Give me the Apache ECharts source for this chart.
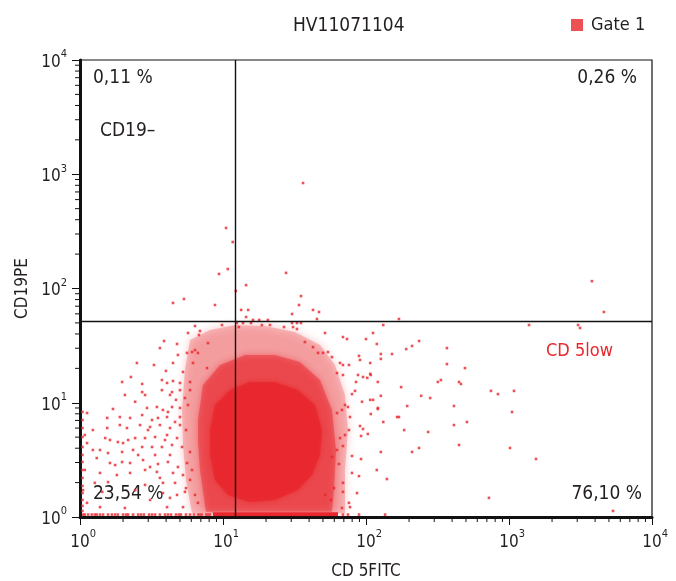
<!DOCTYPE html>
<html>
<head>
<meta charset="utf-8">
<title>HV11071104</title>
<script src="https://cdn.jsdelivr.net/npm/echarts@6/dist/echarts.min.js"></script>
<style>
html, body { margin: 0; padding: 0; background: #fff; }
#chart { width: 676px; height: 581px; }
</style>
</head>
<body>
<div id="chart"></div>
<script>
const FONT = "'Liberation Sans Narrow', 'DejaVu Sans Condensed', 'Noto Sans', sans-serif"
const INK = '#231f20'
const RED = '#e8262c'

// both axes are 4-decade log scales
const majorTicks = [1, 10, 100, 1000, 10000]
const minorTicks = [2, 3, 4, 5, 6, 7, 8, 9, 20, 30, 40, 50, 60, 70, 80, 90,
  200, 300, 400, 500, 600, 700, 800, 900, 2000, 3000, 4000, 5000, 6000, 7000, 8000, 9000]

// quadrant cursor (CD 5FITC, CD19PE)
const quadrantX = 12.1
const quadrantY = 52

const quadrantLabels = ['0,11 %', '0,26 %', '23,54 %', '76,10 %']
const populationLabels = ['CD19–', 'CD 5low']

// events [CD 5FITC, CD19PE]
const leftEvents = [
  [6.37, 47.0], [5.69, 40.8], [6.90, 42.5], [6.79, 39.2], [3.87, 34.7], [4.77, 32.7], [7.85, 33.3],
  [6.07, 27.8], [6.37, 28.9], [6.68, 27.3], [5.60, 27.3], [2.50, 22.3], [3.29, 21.4], [4.47, 22.3],
  [6.17, 22.3], [3.99, 19.0], [5.25, 18.6], [7.73, 20.1], [1.97, 15.2], [2.27, 16.8], [2.72, 14.6],
  [3.74, 15.8], [4.06, 14.9], [4.47, 15.5], [5.00, 14.9], [5.88, 15.2], [2.72, 12.4], [3.74, 12.9],
  [4.40, 12.4], [5.00, 12.9], [5.88, 12.9], [2.43, 10.2], [1.70, 8.82], [2.94, 9.00], [3.45, 9.18],
  [3.80, 8.65], [4.40, 9.18], [5.00, 9.00], [1.12, 8.13], [1.55, 7.36], [1.90, 7.50], [2.24, 7.36],
  [2.72, 7.81], [3.19, 7.06], [3.51, 7.36], [4.06, 7.50], [5.00, 7.50], [1.90, 6.38], [2.13, 6.01],
  [2.63, 6.38], [3.09, 6.14], [3.62, 6.38], [4.26, 6.01], [5.00, 6.38], [1.23, 5.77], [1.55, 6.01],
  [1.08, 5.22], [1.50, 4.91], [1.84, 4.53], [2.00, 4.44], [2.43, 4.91], [2.85, 4.91], [3.35, 5.01],
  [4.06, 5.22], [4.77, 4.91], [1.12, 4.44], [1.23, 3.86], [1.57, 3.63], [1.97, 3.71], [2.35, 3.86],
  [2.72, 4.10], [3.19, 4.10], [3.74, 4.10], [4.40, 4.27], [5.17, 4.10], [1.31, 3.28], [1.62, 2.97],
  [1.97, 3.03], [2.24, 2.97], [2.76, 3.15], [3.09, 2.74], [3.51, 2.91], [4.12, 3.03], [4.84, 2.74],
  [5.60, 2.97], [1.08, 2.58], [1.38, 2.43], [1.81, 2.33], [2.24, 2.43], [2.85, 2.58], [3.45, 2.48],
  [4.47, 2.43], [5.25, 2.33], [1.27, 1.99], [1.57, 2.02], [2.85, 1.91], [3.80, 1.99], [4.62, 1.99],
  [5.88, 2.11], [1.05, 1.72], [1.43, 1.66], [3.80, 1.62], [4.77, 1.56], [5.42, 1.66], [6.68, 1.33],
  [4.06, 1.22], [5.25, 1.22], [1.38, 1.22], [1.12, 1.33], [4.26, 11.7], [4.69, 10.6], [5.42, 11.0],
  [4.12, 8.30], [5.69, 9.56], [4.62, 6.79], [5.51, 5.77], [3.93, 4.72], [5.88, 3.71], [4.26, 3.49],
  [3.62, 2.20], [6.07, 2.58], [5.51, 1.79], [4.26, 1.47], [6.37, 1.56], [3.35, 3.49], [2.99, 5.77],
  [2.55, 3.49], [2.17, 4.72], [1.76, 2.85], [3.09, 1.41], [2.43, 1.72], [2.06, 1.20], [4.84, 26.2],
  [3.62, 30.1], [2.85, 11.7], [2.06, 11.7], [1.62, 4.72], [1.38, 3.86]
]

const upperEvents = [
  [36.3, 838], [10.5, 339], [11.7, 255], [10.8, 148], [9.38, 134], [27.6, 137], [14.5, 107],
  [12.3, 95.1], [4.47, 74.7], [5.33, 80.9], [8.79, 71.7], [35.1, 85.9], [34.0, 71.7], [42.6, 64.9],
  [46.9, 62.3], [30.4, 59.8], [13.4, 64.9], [15.0, 64.9], [14.5, 56.3], [16.2, 53.0], [17.9, 53.0],
  [20.6, 53.0], [45.4, 54.1], [12.5, 49.9], [13.8, 49.9], [15.7, 49.9], [30.4, 49.9], [35.1, 49.9],
  [9.84, 47.9], [12.9, 46.0], [18.7, 47.9], [21.3, 47.9], [26.7, 46.0], [30.9, 46.0], [32.9, 44.2],
  [3800, 116], [4610, 62.3], [170, 54.1]
]

const rightEvents = [
  [51.7, 40.8], [69.0, 37.6], [73.6, 36.1], [100, 36.1], [112, 40.8], [132, 47.9], [119, 32.7],
  [37.4, 34.0], [42.6, 30.7], [46.2, 27.3], [50.0, 27.3], [54.2, 27.8], [57.8, 25.1], [65.8, 22.3],
  [69.0, 21.4], [76.0, 21.4], [89.3, 25.7], [90.8, 23.7], [107, 22.3], [127, 24.2], [127, 26.7],
  [152, 26.7], [62.7, 18.2], [69.0, 17.5], [87.9, 17.5], [95.3, 16.8], [107, 17.9], [121, 15.2],
  [85.1, 15.2], [102, 16.5], [83.8, 12.7], [79.8, 11.9], [74.8, 9.18], [71.3, 9.56], [67.9, 8.65],
  [62.7, 8.13], [77.3, 7.50], [93.8, 10.2], [107, 10.6], [127, 11.5], [121, 9.00], [132, 6.79],
  [90.8, 6.26], [95.3, 5.89], [103, 5.33], [92.3, 5.12], [76.0, 5.77], [71.3, 5.22], [65.8, 4.91],
  [69.0, 4.18], [79.8, 3.42], [92.3, 3.22], [127, 3.71], [62.7, 3.86], [57.8, 3.35], [64.7, 2.91],
  [79.8, 2.43], [89.3, 2.28], [140, 2.15], [119, 2.58], [69.0, 1.99], [59.7, 1.79], [69.0, 1.66],
  [86.5, 1.62], [51.7, 1.56], [56.9, 1.41], [76.0, 1.33], [67.9, 1.20], [77.3, 1.22], [165, 7.50],
  [32.9, 49.9], [1380, 47.9], [3040, 47.9], [3140, 45.1], [235, 34.7], [210, 31.4], [191, 29.5],
  [368, 30.1], [368, 21.8], [492, 20.1], [108, 17.5], [318, 15.2], [334, 15.8], [447, 15.2],
  [461, 14.6], [176, 13.7], [748, 12.7], [837, 11.9], [1084, 12.7], [243, 11.5], [281, 11.0],
  [112, 10.6], [194, 9.37], [412, 9.37], [121, 8.82], [108, 7.97], [170, 7.50], [1050, 8.30],
  [508, 6.79], [412, 6.38], [185, 5.77], [272, 5.55], [447, 4.27], [235, 4.02], [1016, 4.02],
  [210, 3.71], [1545, 3.22], [724, 1.47], [5340, 1.13]
]

// events piled on the low edges of the scale
const leftEdgeEvents = [
  [1.04, 8.30], [1.04, 7.06], [1.04, 6.01], [1.04, 5.01], [1.04, 4.10], [1.04, 3.49], [1.04, 3.03],
  [1.04, 2.58], [1.04, 2.20], [1.04, 1.87], [1.04, 1.62], [1.04, 1.41], [1.04, 1.25], [1.04, 1.13]
]
const bottomEdgeEvents = [
  [1.05, 1.05], [1.08, 1.05], [1.14, 1.05], [1.21, 1.05], [1.27, 1.05], [1.31, 1.05], [1.38, 1.05],
  [1.45, 1.05], [1.57, 1.05], [1.67, 1.05], [1.76, 1.05], [1.84, 1.05], [2.00, 1.05], [2.10, 1.05],
  [2.17, 1.05], [2.35, 1.05], [2.55, 1.05], [2.67, 1.05], [2.80, 1.05], [3.04, 1.05], [3.19, 1.05],
  [3.35, 1.05], [3.62, 1.05], [3.93, 1.05], [4.12, 1.05], [4.33, 1.05], [4.69, 1.05], [4.92, 1.05],
  [5.08, 1.05], [5.51, 1.05], [5.88, 1.05], [6.27, 1.05], [6.68, 1.05], [6.90, 1.05], [7.13, 1.05],
  [7.60, 1.05], [7.85, 1.05], [8.11, 1.05], [69.0, 1.05], [74.8, 1.05], [89.3, 1.05], [136, 1.05]
]

// outlines of the dense part of the cloud, from sparse to solid
const outerDensity = [
  [5.88, 35.4], [8.11, 43.3], [12.1, 47.9], [19.7, 47.0], [31.9, 41.6], [47.7, 32.0], [60.7, 21.4],
  [71.3, 11.7], [74.8, 5.77], [71.3, 2.58], [71.3, 1.08], [6.07, 1.08], [5.51, 2.11], [5.25, 4.27],
  [5.17, 8.65], [5.42, 19.4]
]
const midDensity = [
  [6.68, 7.06], [7.24, 14.3], [9.53, 21.4], [14.3, 26.2], [23.1, 26.2], [34.5, 22.7], [47.7, 15.8],
  [57.8, 8.65], [61.7, 3.86], [59.7, 1.72], [57.8, 1.11], [7.60, 1.11], [6.90, 2.58], [6.68, 4.72]
]
const coreDensity = [
  [8.11, 5.77], [8.79, 9.56], [11.2, 12.9], [15.4, 15.2], [23.1, 15.2], [33.4, 12.9], [44.0, 9.56],
  [49.2, 5.77], [47.7, 3.49], [41.9, 2.33], [33.4, 1.72], [23.1, 1.41], [15.4, 1.35], [10.8, 1.56],
  [8.79, 2.11], [8.11, 3.49]
]
const bottomBand = [[8.51, 1.02], [63.7, 1.02], [63.7, 1.10], [8.51, 1.10]]

const densityLayers = [
  { outline: outerDensity, opacity: 0.26, blur: 8 },
  { outline: midDensity, opacity: 0.46, blur: 6 },
  { outline: coreDensity, opacity: 0.74, blur: 5 },
  { outline: bottomBand, opacity: 1, blur: 0 }
]

const chart = echarts.init(document.getElementById('chart'))

const textBase = { fontFamily: FONT, color: INK }
const powerRich = {
  pad: { fontSize: 11, lineHeight: 22, color: 'rgba(0,0,0,0)', fontFamily: FONT },
  base: { fontSize: 17, lineHeight: 18, verticalAlign: 'bottom', color: INK, fontFamily: FONT },
  sup: { fontSize: 11, lineHeight: 11, verticalAlign: 'top', color: INK, fontFamily: FONT }
}
const exponentOf = v => String(Math.round(Math.log10(v)))

const option = {
  animation: false,
  backgroundColor: '#fff',
  title: {
    text: 'HV11071104',
    left: 288,
    top: 12,
    textStyle: { ...textBase, fontSize: 19, fontWeight: 'normal' }
  },
  legend: {
    data: ['Gate 1'],
    left: 571,
    top: 16,
    icon: 'rect',
    itemWidth: 12,
    itemHeight: 12,
    itemGap: 6,
    padding: 0,
    textStyle: { ...textBase, fontSize: 18, padding: [0, 0, 0, 3] }
  },
  grid: {
    left: 80,
    right: 24,
    top: 60,
    bottom: 64,
    containLabel: false,
    outerBoundsMode: 'none',
    show: true,
    borderColor: '#111',
    borderWidth: 1.2
  },
  xAxis: {
    type: 'log',
    logBase: 10,
    min: majorTicks[0],
    max: majorTicks[majorTicks.length - 1],
    name: 'CD 5FITC',
    nameLocation: 'middle',
    nameGap: 46,
    nameMoveOverlap: false,
    nameTextStyle: { ...textBase, fontSize: 17 },
    axisLine: { lineStyle: { color: '#111', width: 3 } },
    axisTick: { length: 8, lineStyle: { color: '#111', width: 1 } },
    splitLine: { show: false },
    axisLabel: {
      margin: 12,
      formatter: v => `{pad|${exponentOf(v)}}{base|10}{sup|${exponentOf(v)}}`,
      rich: powerRich
    }
  },
  yAxis: {
    type: 'log',
    logBase: 10,
    min: majorTicks[0],
    max: majorTicks[majorTicks.length - 1],
    name: 'CD19PE',
    nameLocation: 'middle',
    nameGap: 49,
    nameMoveOverlap: false,
    nameRotate: 90,
    nameTextStyle: { ...textBase, fontSize: 17 },
    axisLine: { lineStyle: { color: '#111', width: 3 } },
    axisTick: { length: 8, lineStyle: { color: '#111', width: 1 } },
    splitLine: { show: false },
    axisLabel: {
      margin: 13,
      formatter: v => `{pad| }{base|10}{sup|${exponentOf(v)}}`,
      rich: powerRich
    }
  },
  graphic: [
    { type: 'text', x: 93, y: 78, style: { text: quadrantLabels[0], font: `19px ${FONT}`, fill: INK, verticalAlign: 'middle' } },
    { type: 'text', x: 637, y: 78, style: { text: quadrantLabels[1], font: `19px ${FONT}`, fill: INK, align: 'right', verticalAlign: 'middle' } },
    { type: 'text', x: 93, y: 494, style: { text: quadrantLabels[2], font: `19px ${FONT}`, fill: INK, verticalAlign: 'middle' } },
    { type: 'text', x: 642, y: 494, style: { text: quadrantLabels[3], font: `19px ${FONT}`, fill: INK, align: 'right', verticalAlign: 'middle' } },
    { type: 'text', x: 100, y: 131, style: { text: populationLabels[0], font: `19px ${FONT}`, fill: INK, verticalAlign: 'middle' } },
    { type: 'text', x: 546, y: 351, style: { text: populationLabels[1], font: `18px ${FONT}`, fill: RED, verticalAlign: 'middle' } }
  ],
  series: [
    {
      // shaded density of the main cloud
      type: 'custom',
      coordinateSystem: 'cartesian2d',
      silent: true,
      z: 1,
      data: densityLayers.map(() => [1, 1]),
      renderItem: (params, api) => {
        const layer = densityLayers[params.dataIndex]
        return {
          type: 'polygon',
          shape: { points: layer.outline.map(p => api.coord(p)) },
          style: { fill: RED, opacity: layer.opacity, shadowBlur: layer.blur, shadowColor: RED }
        }
      }
    },
    {
      name: 'Gate 1',
      type: 'scatter',
      symbol: 'rect',
      symbolSize: 2.6,
      silent: true,
      z: 2,
      itemStyle: { color: RED },
      data: [...leftEvents, ...upperEvents, ...rightEvents, ...leftEdgeEvents, ...bottomEdgeEvents],
      markLine: {
        silent: true,
        symbol: ['none', 'none'],
        label: { show: false },
        lineStyle: { color: '#111', width: 1.4, type: 'solid' },
        data: [{ xAxis: quadrantX }, { yAxis: quadrantY }]
      }
    },
    {
      // log minor ticks under the x axis
      type: 'custom',
      coordinateSystem: 'cartesian2d',
      silent: true,
      clip: false,
      data: minorTicks.map(v => [v, majorTicks[0]]),
      renderItem: (params, api) => {
        const p = api.coord([api.value(0), api.value(1)])
        return {
          type: 'line',
          shape: { x1: p[0], y1: p[1] + 1, x2: p[0], y2: p[1] + 5 },
          style: { stroke: '#111', lineWidth: 1 }
        }
      }
    },
    {
      // log minor ticks left of the y axis
      type: 'custom',
      coordinateSystem: 'cartesian2d',
      silent: true,
      clip: false,
      data: minorTicks.map(v => [majorTicks[0], v]),
      renderItem: (params, api) => {
        const p = api.coord([api.value(0), api.value(1)])
        return {
          type: 'line',
          shape: { x1: p[0] - 1, y1: p[1], x2: p[0] - 5, y2: p[1] },
          style: { stroke: '#111', lineWidth: 1 }
        }
      }
    }
  ]
}

chart.setOption(option)
</script>
</body>
</html>
